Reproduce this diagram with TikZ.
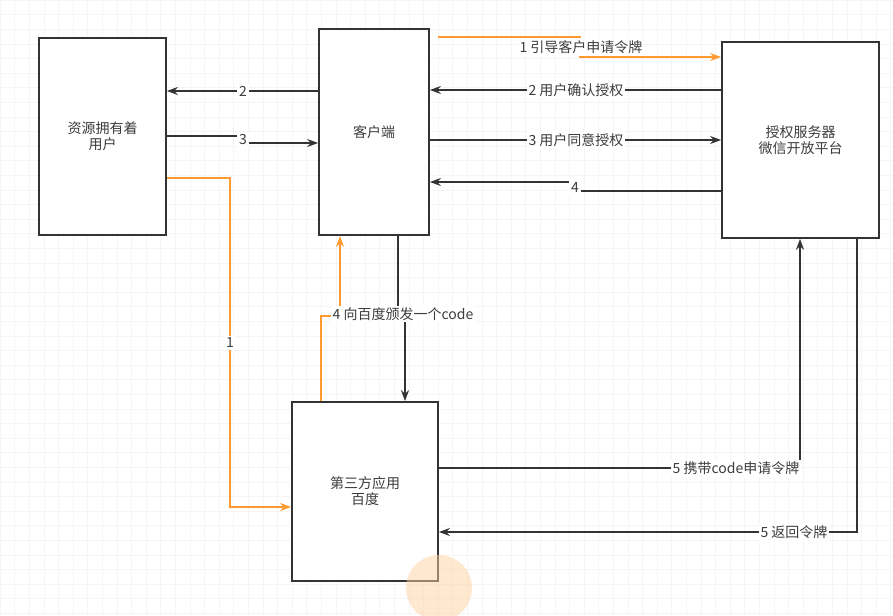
\documentclass[tikz,border=0pt]{standalone}
\usepackage{fontspec}
\setmainfont{Noto Sans CJK SC}
\usepackage{tikz}
\usetikzlibrary{arrows.meta,calc}
\definecolor{linec}{HTML}{333333}
\definecolor{textc}{HTML}{3C3C3C}
\definecolor{orng}{HTML}{FF9A30}

\begin{document}
\begin{tikzpicture}[x=1pt, y=-1pt, >={Stealth[length=11pt,width=8pt]},
  font=\fontsize{14}{16}\selectfont, text=textc,
  box/.style={draw=linec,line width=1.8pt,fill=white,align=center},
  arr/.style={->,draw=linec,line width=1.4pt},
  oarr/.style={->,draw=orng,line width=1.4pt},
  lbl/.style={fill=white,inner sep=2pt}]
  \useasboundingbox (0,0) rectangle (893,615);
  \foreach \i in {0,...,61} \draw[gray!8] (\i*14.6,0) -- (\i*14.6,615);
  \foreach \i in {0,...,42} \draw[gray!8] (0,\i*14.6) -- (893,\i*14.6);
  \node[box,minimum width=127,minimum height=197] (A) at (102.5,136.5) {资源拥有着\\用户};
  \node[box,minimum width=110,minimum height=206] (B) at (374,132) {客户端};
  \node[box,minimum width=157,minimum height=196] (C) at (800.5,140) {授权服务器\\微信开放平台};
  \node[box,minimum width=146,minimum height=179] (D) at (365,491.5) {第三方应用\\百度};
  \coordinate (o1) at (438,37);
  % client <-> user
  \draw[arr] (B.west |- 0,91) -- (A.east |- 0,91);
  \draw[arr] (A.east |- 0,136) -- (243,136) -- (243,143) -- (B.west |- 0,143);
  \node[lbl] (l2) at (243,91) {2};
  \node[lbl] (l3) at (243,140) {3};
  % client <-> server
  \draw[oarr] (o1) -- (580,37) -- (580,57) -- (C.west |- 0,57);
  \draw[arr] (C.west |- 0,90) -- (B.east |- 0,90);
  \draw[arr] (B.east |- 0,140) -- (C.west |- 0,140);
  \draw[arr] (C.west |- 0,191) -- (575,191) -- (575,182) -- (B.east |- 0,182);
  \node[lbl] (l1a) at (581,47) {1 引导客户申请令牌};
  \node[lbl] (l2a) at (576,90) {2 用户确认授权};
  \node[lbl] (l3a) at (576,140) {3 用户同意授权};
  \node[lbl] (l4) at (575,188) {4};
  % user/client <-> app
  \draw[oarr] (A.east |- 0,178) -- (230,178) -- (230,507) -- (D.west |- 0,507);
  \node[lbl] (l1) at (230,343) {1};
  \draw[oarr] (D.north -| 321,0) -- (321,316) -- (340,316) -- (B.south -| 340,0);
  \draw[arr] (B.south -| 398,0) -- (398,312) -- (405,312) -- (D.north -| 405,0);
  \node[lbl] (l4a) at (403,314) {4 向百度颁发一个code};
  % app <-> server
  \draw[arr] (D.east |- 0,468) -- (800,468) -- (C.south -| 800,0);
  \draw[arr] (C.south -| 857,0) -- (857,532) -- (D.east |- 0,532);
  \node[lbl] (l5a) at (736,468) {5 携带code申请令牌};
  \node[lbl] (l5b) at (794,532) {5 返回令牌};
  \fill[orng!45, opacity=0.5] (439,588) circle (33);
\end{tikzpicture}
\end{document}
